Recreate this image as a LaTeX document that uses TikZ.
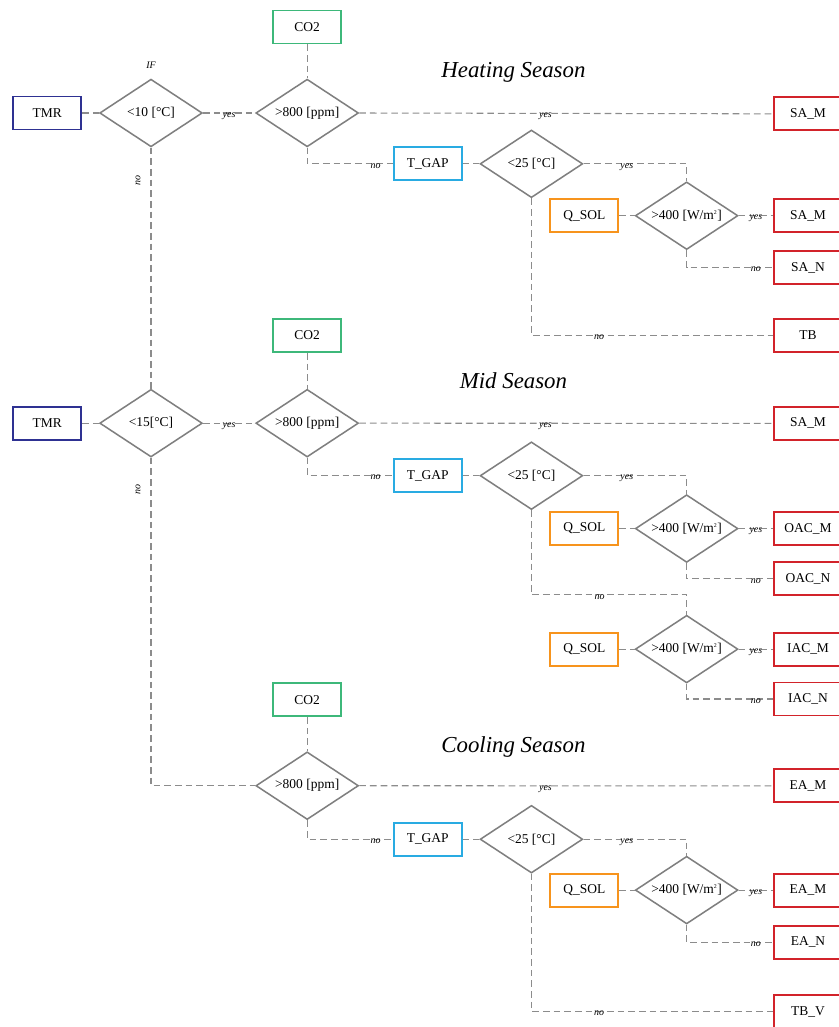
\documentclass[tikz,border=0pt]{standalone}
\usepackage{fontspec}
\setmainfont{Liberation Serif}
\usepackage{xcolor}
\usetikzlibrary{arrows.meta,positioning,shapes.geometric}

\definecolor{linegray}{HTML}{8C8C8C}
\definecolor{condgray}{HTML}{7F7F7F}
\definecolor{tmrblue}{HTML}{2E3192}
\definecolor{co2green}{HTML}{3DB87A}
\definecolor{gapblue}{HTML}{29ABE2}
\definecolor{solorange}{HTML}{F7941D}
\definecolor{outred}{HTML}{D2232A}

\begin{document}
\begin{tikzpicture}[font=\fontsize{11.5}{13}\selectfont,
  cnd/.style={diamond,aspect=1.5,draw=condgray,line width=1.3pt,minimum width=30.8mm,minimum height=20.3mm,inner sep=0pt},
  inp/.style={rectangle,draw,line width=1.6pt,minimum width=20.4mm,minimum height=9.9mm,inner sep=2pt},
  act/.style={inp,draw=outred},
  con/.style={draw=linegray,line width=0.9pt,dash pattern=on 2mm off 1.2mm},
  lab/.style={font=\fontsize{8.5}{10}\selectfont\itshape,inner sep=0pt},
  yn/.style={lab,anchor=north,yshift=.3mm},
  ttl/.style={font=\fontsize{19.5}{22}\selectfont\itshape,inner sep=0pt}]
\useasboundingbox(-45.3mm,33.9mm)rectangle++(251.4mm,-308.1mm);
% heating season
\node[cnd](cH){<10 [°C]};
\node[inp,draw=tmrblue,left=5mm of cH](tmrH){TMR};
\node[lab,above=3mm of cH](ifH){IF};
\node[cnd,right=15.6mm of cH](pH){>800 [ppm]};
\node[inp,draw=co2green,above=10.2mm of pH](co2H){CO2};
\node[inp,draw=gapblue,below right=30.6mm and 15.2mm of co2H](gH){T\_GAP};
\node[cnd,right=5mm of gH](tH){<25 [°C]};
\node[inp,draw=solorange,below right=5.1mm and 26mm of gH](qH){Q\_SOL};
\node[cnd,right=4.6mm of qH](wH){>400 [W/m\textsuperscript{\tiny 2}]};
\node[act,right=10.3mm of wH](saH2){SA\_M};
\node[act,above=20.1mm of saH2](saH1){SA\_M};
\node[act,below=5.1mm of saH2](snH){SA\_N};
\node[act,below=9.9mm of snH](tbH){TB};
\node[ttl,above=15.5mm of tH,anchor=base,xshift=-5.4mm]{Heating Season};
% mid season
\node[cnd,below=72.3mm of cH](cM){<15[°C]};
\node[inp,draw=tmrblue,left=5mm of cM](tmrM){TMR};
\node[cnd,right=15.6mm of cM](pM){>800 [ppm]};
\node[inp,draw=co2green,above=10.7mm of pM](co2M){CO2};
\node[inp,draw=gapblue,below right=31.6mm and 15.2mm of co2M](gM){T\_GAP};
\node[cnd,right=5mm of gM](tM){<25 [°C]};
\node[inp,draw=solorange,below right=5.4mm and 26mm of gM](qM){Q\_SOL};
\node[cnd,right=4.6mm of qM](wM){>400 [W/m\textsuperscript{\tiny 2}]};
\node[act,right=10.3mm of wM](oaM){OAC\_M};
\node[act,above=21.1mm of oaM](saM){SA\_M};
\node[act,below=4.6mm of oaM](onM){OAC\_N};
\node[inp,draw=solorange,below=25.7mm of qM](qM2){Q\_SOL};
\node[cnd,right=4.6mm of qM2](wM2){>400 [W/m\textsuperscript{\tiny 2}]};
\node[act,right=10.3mm of wM2](iaM){IAC\_M};
\node[act,below=4.5mm of iaM](inM){IAC\_N};
\coordinate[above=5.9mm of wM2](noM);
\node[ttl,above=15.9mm of tM,anchor=base,xshift=-5.4mm]{Mid Season};
% cooling season
\node[cnd,below=88mm of pM](pC){>800 [ppm]};
\node[inp,draw=co2green,above=10.2mm of pC](co2C){CO2};
\node[inp,draw=gapblue,below right=31.4mm and 15.2mm of co2C](gC){T\_GAP};
\node[cnd,right=5mm of gC](tC){<25 [°C]};
\node[inp,draw=solorange,below right=4.8mm and 26mm of gC](qC){Q\_SOL};
\node[cnd,right=4.6mm of qC](wC){>400 [W/m\textsuperscript{\tiny 2}]};
\node[act,right=10.3mm of wC](eaC2){EA\_M};
\node[act,above=20.8mm of eaC2](eaC1){EA\_M};
\node[act,below=5.2mm of eaC2](enC){EA\_N};
\node[act,below=10.3mm of enC](tbC){TB\_V};
\node[ttl,above=15.5mm of tC,anchor=base,xshift=-5.4mm]{Cooling Season};
% edges heating
\draw[con](tmrH)--(cH);
\draw[con](cH)--node[yn]{yes}(pH);
\draw[con](co2H)--(pH);
\draw[con](pH.east)--node[yn,pos=.45]{yes}(saH1.west);
\draw[con](pH.south)|-node[yn,pos=.9]{no}(gH.west);
\draw[con](gH)--(tH);
\draw[con](tH.east)-|node[yn,pos=.21]{yes}(wH.north);
\draw[con](qH)--(wH);
\draw[con](wH.east)--node[yn]{yes}(saH2.west);
\draw[con](wH.south)|-node[yn,pos=.9]{no}(snH.west);
\draw[con](tH.south)|-node[yn,pos=.64]{no}(tbH.west);
\draw[con](cH.south)--node[lab,pos=.135,rotate=90,anchor=south,yshift=3mm]{no}(cM.north);
% edges mid
\draw[con](tmrM)--(cM);
\draw[con](cM)--node[yn]{yes}(pM);
\draw[con](co2M)--(pM);
\draw[con](pM.east)--node[yn,pos=.45]{yes}(saM.west);
\draw[con](pM.south)|-node[yn,pos=.9]{no}(gM.west);
\draw[con](gM)--(tM);
\draw[con](tM.east)-|node[yn,pos=.21]{yes}(wM.north);
\draw[con](qM)--(wM);
\draw[con](wM.east)--node[yn]{yes}(oaM.west);
\draw[con](wM.south)|-node[yn,pos=.9]{no}(onM.west);
\draw[con](tM.south)|-node[yn,pos=.72]{no}(noM)--(wM2.north);
\draw[con](qM2)--(wM2);
\draw[con](wM2.east)--node[yn]{yes}(iaM.west);
\draw[con](wM2.south)|-node[yn,pos=.9]{no}(inM.west);
\draw[con](cM.south)|-node[lab,pos=.049,rotate=90,anchor=south,yshift=3mm]{no}(pC.west);
% edges cooling
\draw[con](co2C)--(pC);
\draw[con](pC.east)--node[yn,pos=.45]{yes}(eaC1.west);
\draw[con](pC.south)|-node[yn,pos=.9]{no}(gC.west);
\draw[con](gC)--(tC);
\draw[con](tC.east)-|node[yn,pos=.21]{yes}(wC.north);
\draw[con](qC)--(wC);
\draw[con](wC.east)--node[yn]{yes}(eaC2.west);
\draw[con](wC.south)|-node[yn,pos=.9]{no}(enC.west);
\draw[con](tC.south)|-node[yn,pos=.64]{no}(tbC.west);
\end{tikzpicture}
\end{document}
